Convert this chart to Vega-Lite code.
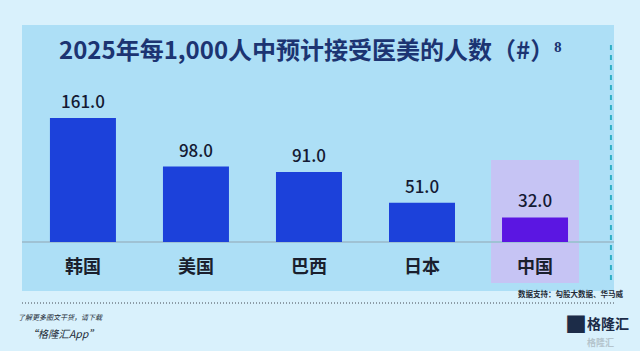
{
  "$schema": "https://vega.github.io/schema/vega-lite/v6.json",
  "width": 592,
  "height": 266,
  "autosize": {"type": "none"},
  "padding": {"left": 22, "top": 25, "right": 26, "bottom": 60},
  "background": "#d9f1fc",
  "config": {
    "view": {"stroke": null, "fill": "#addff6"},
    "font": "Noto Sans CJK SC"
  },
  "title": {
    "text": "2025年每1,000人中预计接受医美的人数（#）⁸",
    "anchor": "start",
    "orient": "top",
    "frame": "group",
    "baseline": "middle",
    "offset": -23,
    "dx": 37,
    "dy": 28,
    "font": "Noto Sans CJK SC",
    "fontSize": 24,
    "fontWeight": "bold",
    "color": "#1c3472"
  },
  "data": {
    "values": [
      {"country": "韩国", "value": 161.0},
      {"country": "美国", "value": 98.0},
      {"country": "巴西", "value": 91.0},
      {"country": "日本", "value": 51.0},
      {"country": "中国", "value": 32.0}
    ]
  },
  "encoding": {
    "x": {
      "field": "country",
      "type": "nominal",
      "sort": null,
      "scale": {"type": "band", "domain": ["韩国", "美国", "巴西", "日本", "中国"], "paddingInner": 0.416, "paddingOuter": 0.327, "align": 0.378},
      "axis": null
    }
  },
  "layer": [
    {
      "data": {"values": [{"country": "中国", "lo": -53.2, "hi": 106.5}]},
      "mark": {"type": "bar", "width": 88, "color": "#c6c4f4"},
      "encoding": {
        "y": {"field": "lo", "type": "quantitative", "scale": {"domain": [-63.6, 281.8], "nice": false, "zero": false}, "axis": null},
        "y2": {"field": "hi"}
      }
    },
    {
      "mark": {"type": "rule", "color": "#9fc2d4", "strokeWidth": 2},
      "encoding": {"x": null, "y": {"datum": 0, "type": "quantitative"}}
    },
    {
      "mark": {"type": "bar"},
      "encoding": {
        "y": {"field": "value", "type": "quantitative"},
        "color": {"condition": {"test": "datum.country === '中国'", "value": "#5b16e2"}, "value": "#1c41da"}
      }
    },
    {
      "mark": {"type": "text", "baseline": "alphabetic", "dy": -10, "fontSize": 17, "fontWeight": 500, "color": "#141a33"},
      "encoding": {
        "y": {"field": "value", "type": "quantitative"},
        "text": {"field": "value", "type": "quantitative", "format": ".1f"}
      }
    },
    {
      "mark": {"type": "text", "baseline": "middle", "fontSize": 18, "fontWeight": "bold", "color": "#1a1f2e"},
      "encoding": {
        "y": {"datum": -33.8, "type": "quantitative"},
        "text": {"field": "country", "type": "nominal"}
      }
    },
    {
      "data": {"values": [{"country": "中国"}]},
      "mark": {"type": "rule", "color": "#2fb0c6", "strokeWidth": 2, "strokeDash": [5, 5]},
      "encoding": {
        "x": {"field": "country", "type": "nominal", "bandPosition": 1.65},
        "y": {"datum": 255.8, "type": "quantitative"},
        "y2": {"datum": -53.2}
      }
    },
    {
      "mark": {"type": "rule", "color": "#8a9aa4", "strokeWidth": 1, "strokeDash": [1, 2]},
      "encoding": {"x": null, "y": {"datum": -79.2, "type": "quantitative"}}
    },
    {
      "data": {"values": [{"country": "中国", "note": "数据支持：勾股大数据、华马威"}]},
      "mark": {"type": "text", "align": "right", "baseline": "middle", "dx": 88, "fontSize": 7.5, "fontWeight": "bold", "color": "#222a36"},
      "encoding": {
        "y": {"datum": -68.8, "type": "quantitative"},
        "text": {"field": "note", "type": "nominal"}
      }
    },
    {
      "data": {"values": [{"country": "韩国", "note": "了解更多图文干货，请下载"}]},
      "mark": {"type": "text", "align": "left", "baseline": "middle", "dx": -65, "fontSize": 7, "fontStyle": "italic", "color": "#222a36"},
      "encoding": {
        "y": {"datum": -98.7, "type": "quantitative"},
        "text": {"field": "note", "type": "nominal"}
      }
    },
    {
      "data": {"values": [{"country": "韩国", "note": "“格隆汇App”"}]},
      "mark": {"type": "text", "align": "left", "baseline": "middle", "dx": -56, "fontSize": 10.5, "fontStyle": "italic", "color": "#222a36"},
      "encoding": {
        "y": {"datum": -120.8, "type": "quantitative"},
        "text": {"field": "note", "type": "nominal"}
      }
    },
    {
      "data": {"values": [{"country": "中国", "note": "■"}]},
      "mark": {"type": "text", "align": "left", "baseline": "middle", "dx": 30, "fontSize": 22, "color": "#1c2c48"},
      "encoding": {
        "y": {"datum": -108, "type": "quantitative"},
        "text": {"field": "note", "type": "nominal"}
      }
    },
    {
      "data": {"values": [{"country": "中国", "note": "格隆汇"}]},
      "mark": {"type": "text", "align": "left", "baseline": "middle", "dx": 52, "fontSize": 14, "fontWeight": "bold", "color": "#1c2c48"},
      "encoding": {
        "y": {"datum": -108, "type": "quantitative"},
        "text": {"field": "note", "type": "nominal"}
      }
    },
    {
      "data": {"values": [{"country": "中国", "note": "格隆汇"}]},
      "mark": {"type": "text", "align": "left", "baseline": "middle", "dx": 52, "fontSize": 9, "fontWeight": "bold", "color": "#b4c4cc"},
      "encoding": {
        "y": {"datum": -131, "type": "quantitative"},
        "text": {"field": "note", "type": "nominal"}
      }
    }
  ]
}
